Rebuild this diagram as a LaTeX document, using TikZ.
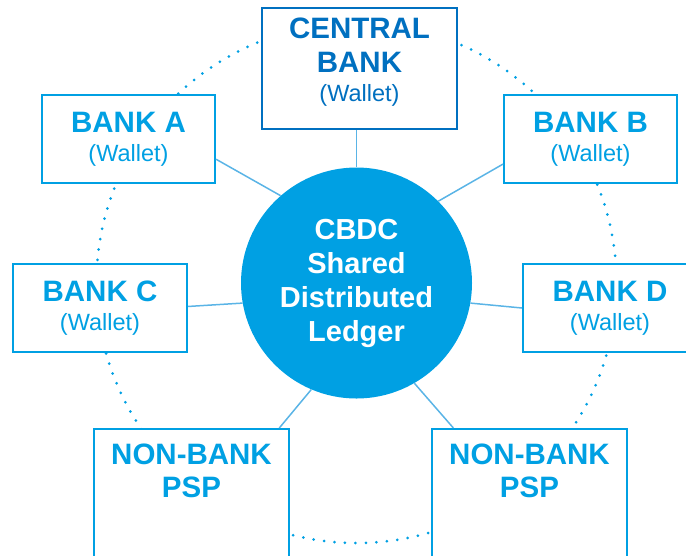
\documentclass[tikz,border=0pt]{standalone}
\usepackage{fontspec}
\setmainfont{Liberation Sans}
\definecolor{cbdcblue}{HTML}{00A0E3}
\definecolor{cbdcdark}{HTML}{0070C0}
\definecolor{cbdcline}{HTML}{5AB4E6}
\newcommand{\walletline}{{\fontsize{23.5}{26}\selectfont\mdseries(Wallet)}}

\begin{document}
\begin{tikzpicture}[
  x=1pt,
  y=-1pt,
  bank box/.style={
    draw=cbdcblue,
    fill=white,
    line width=2pt,
    text=cbdcblue,
    align=center,
    font=\fontsize{29.5}{30}\selectfont\bfseries,
    minimum width=173,
    minimum height=88,
    inner sep=0pt
  },
  central box/.style={
    bank box,
    draw=cbdcdark,
    text=cbdcdark,
    minimum width=195,
    minimum height=121,
    text depth=17pt
  },
  psp box/.style={
    bank box,
    minimum width=195,
    minimum height=200
  },
  psp text/.style={
    text=cbdcblue,
    align=center,
    font=\fontsize{29.5}{33}\selectfont\bfseries,
    inner sep=0pt
  },
  hub circle/.style={
    circle,
    fill=cbdcblue,
    text=white,
    align=center,
    font=\fontsize{29}{34}\selectfont\bfseries,
    minimum size=231,
    inner sep=0pt
  },
  link line/.style={
    draw=cbdcline,
    line width=1.5pt
  },
  ring dots/.style={
    draw=cbdcblue,
    line width=3pt,
    line cap=round,
    dash pattern=on 0pt off 10.5pt
  },
]
\clip (0,0) rectangle (686,555);

\coordinate (ring) at (356.5,283);
\draw[ring dots] (ring) circle (260);

\node[hub circle] (hub) at (356.5,283) {CBDC\\Shared\\Distributed\\Ledger};

\node[central box] (cb) at (359.5,68.5) {CENTRAL\\[4pt]BANK\\[-1pt]\walletline};
\node[bank box] (bankA) at (128.5,139) {BANK A\\[-1pt]\walletline};
\node[bank box] (bankB) at (590.5,139) {BANK B\\[-1pt]\walletline};
\node[bank box, minimum width=174] (bankC) at (100,308) {BANK C\\[-1pt]\walletline};
\node[bank box, minimum width=174] (bankD) at (610,308) {BANK D\\[-1pt]\walletline};

\node[psp box,
  label={[psp text, anchor=north, yshift=-16pt]north:NON-BANK\\PSP}] (pspL) at (191.5,529) {};
\node[psp box,
  label={[psp text, anchor=north, yshift=-16pt]north:NON-BANK\\PSP}] (pspR) at (529.5,529) {};

% spokes from the ledger
\draw[link line] (hub.90) -- (hub.90 |- cb.south);
\draw[link line] (hub.131) -- (bankA.-13.6);
\draw[link line] (hub.45) -- (bankB.196.7);
\draw[link line] (hub.190) -- (bankC.1.3);
\draw[link line] (hub.-10) -- (bankD.180);
\draw[link line] (hub.247) -- (pspL.49.5);
\draw[link line] (hub.-60) -- (pspR.127.8);
\end{tikzpicture}
\end{document}
